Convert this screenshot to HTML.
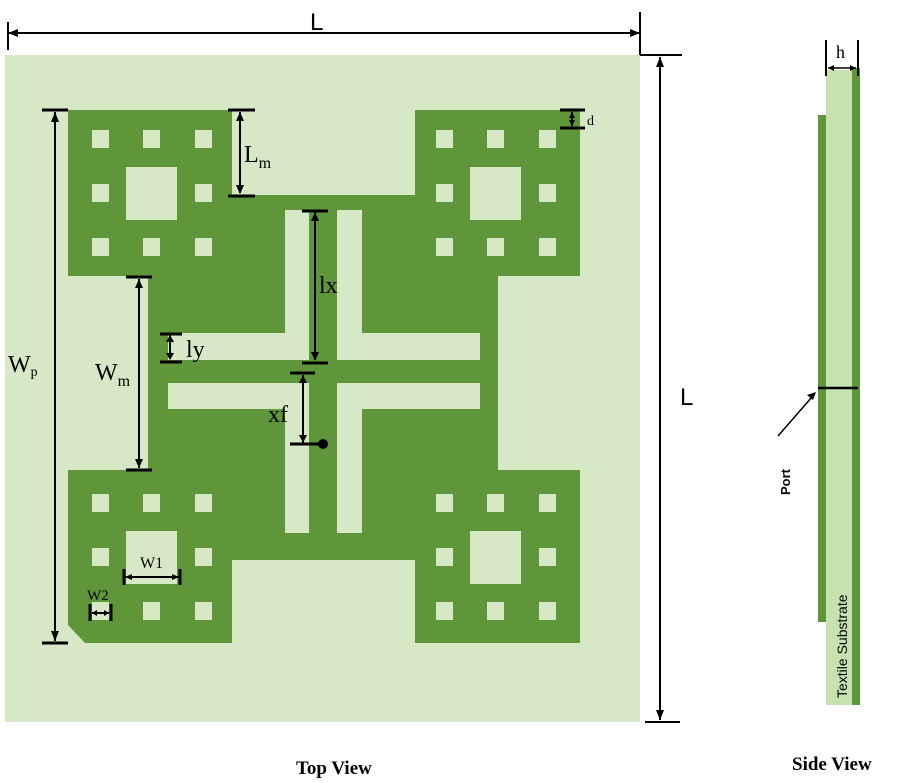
<!DOCTYPE html>
<html><head><meta charset="utf-8"><style>body{margin:0;background:#fff}svg{display:block}</style></head><body>
<svg width="900" height="783" viewBox="0 0 900 783" xmlns="http://www.w3.org/2000/svg" font-family="Liberation Serif, serif">
<rect x="5" y="55" width="635" height="667" fill="#d6e8c5"/>
<path d="M68 110H232V195H415V110H580V276H498V470H580V643H415V560H232V643H85L68 625V470H148V276H68Z" fill="#5f9639"/>
<g fill="#d6e8c5">
<g id="h1">
<rect x="92" y="130" width="17" height="18"/><rect x="143" y="130" width="17" height="18"/><rect x="195" y="130" width="17" height="18"/>
<rect x="92" y="184" width="17" height="18"/><rect x="195" y="184" width="17" height="18"/>
<rect x="92" y="238" width="17" height="18"/><rect x="143" y="238" width="17" height="18"/><rect x="195" y="238" width="17" height="18"/>
<rect x="126" y="167" width="51" height="53"/>
</g>
<use href="#h1" x="344" y="0"/>
<use href="#h1" x="0" y="364"/>
<use href="#h1" x="344" y="364"/>
<rect x="285" y="210" width="24" height="150"/><rect x="168" y="333" width="141" height="27"/>
<rect x="337" y="210" width="25" height="150"/><rect x="337" y="333" width="143" height="27"/>
<rect x="168" y="383" width="141" height="26"/><rect x="285" y="383" width="24" height="150"/>
<rect x="337" y="383" width="143" height="26"/><rect x="337" y="383" width="25" height="150"/>
</g>
<g stroke="#000" stroke-width="2" fill="none">
<line x1="8" y1="33" x2="640" y2="33"/><line x1="8" y1="22" x2="8" y2="50"/><line x1="640" y1="12" x2="640" y2="55"/>
<line x1="660" y1="57" x2="660" y2="720"/><line x1="640" y1="55" x2="682" y2="55"/><line x1="645" y1="722" x2="680" y2="722"/>
<line x1="55" y1="112" x2="55" y2="641"/>
<line x1="240" y1="112" x2="240" y2="193"/>
<line x1="139" y1="279" x2="139" y2="468"/>
<line x1="170" y1="335" x2="170" y2="358"/>
<line x1="315" y1="212" x2="315" y2="360"/>
<line x1="303" y1="375" x2="303" y2="443"/>
<line x1="572" y1="112" x2="572" y2="126"/>
<line x1="125" y1="577" x2="179" y2="577"/>
<line x1="92" y1="613" x2="109" y2="613"/>
</g>
<g stroke="#000" stroke-width="3" fill="none">
<line x1="42" y1="110" x2="68" y2="110"/><line x1="42" y1="643" x2="68" y2="643"/>
<line x1="228" y1="110" x2="255" y2="110"/><line x1="228" y1="196" x2="255" y2="196"/>
<line x1="126" y1="277" x2="152" y2="277"/><line x1="126" y1="470" x2="152" y2="470"/>
<line x1="160" y1="334" x2="182" y2="334"/><line x1="160" y1="362" x2="182" y2="362"/>
<line x1="302" y1="211" x2="328" y2="211"/><line x1="302" y1="363" x2="328" y2="363"/>
<line x1="290" y1="373" x2="315" y2="373"/><line x1="290" y1="444" x2="322" y2="444"/>
<line x1="560" y1="110" x2="585" y2="110"/><line x1="560" y1="128" x2="585" y2="128"/>
<line x1="124" y1="569" x2="124" y2="585"/><line x1="180" y1="569" x2="180" y2="585"/>
<line x1="90" y1="604" x2="90" y2="621"/><line x1="111" y1="604" x2="111" y2="621"/>
</g>
<g fill="#000">
<circle cx="323" cy="444" r="5"/>
<path d="M8 33l10-4v8zM640 33l-10-4v8zM660 57l-4 10h8zM660 720l-4-10h8zM55 112l-4 10h8zM55 641l-4-10h8zM240 112l-4 9h8zM240 194l-4-9h8zM139 279l-4 9h8zM139 468l-4-9h8zM170 335l-4 7h8zM170 360l-4-7h8zM315 212l-4 9h8zM315 361l-4-9h8zM303 375l-4 8h8zM303 443l-4-8h8zM572 112l-3 6h6zM572 126l-3-6h6zM125 577l7-3v6zM179 577l-7-3v6zM92 613l5-3v6zM109 613l-5-3v6z"/>
</g>
<g font-size="24">
<text x="310" y="30" font-family="Liberation Sans, sans-serif" font-size="24">L</text>
<text x="680" y="405" font-family="Liberation Sans, sans-serif" font-size="24">L</text>
<text x="8" y="372">W<tspan font-size="14" dy="4">p</tspan></text>
<text x="244" y="162">L<tspan font-size="16" dy="6">m</tspan></text>
<text x="95" y="380">W<tspan font-size="16" dy="6">m</tspan></text>
<text x="186" y="357">ly</text>
<text x="319" y="293">lx</text>
<text x="268" y="422">xf</text>
</g>
<text x="587" y="125" font-size="14">d</text>
<text x="140" y="568" font-size="16">W1</text>
<text x="87" y="600" font-size="15">W2</text>
<rect x="826" y="70" width="32" height="635" fill="#c6e2b0"/>
<rect x="818" y="115" width="8" height="507" fill="#5f9639"/>
<rect x="852" y="68" width="8" height="637" fill="#5f9639"/>
<line x1="818" y1="388" x2="858" y2="388" stroke="#000" stroke-width="2.5"/>
<line x1="778" y1="436" x2="812" y2="397" stroke="#000" stroke-width="1.5"/>
<path d="M816 392l-9 3 6 5z" fill="#000"/>
<g stroke="#000" stroke-width="2"><line x1="826" y1="40" x2="826" y2="76"/><line x1="858" y1="40" x2="858" y2="76"/><line x1="828" y1="68" x2="856" y2="68" stroke-width="1.5"/></g>
<path d="M828 68l6-3v6zM856 68l-6-3v6z" fill="#000"/>
<text x="836" y="58" font-size="18">h</text>
<text transform="translate(790,495) rotate(-90)" font-family="Liberation Sans, sans-serif" font-size="13" font-weight="bold">Port</text>
<text transform="translate(847,698) rotate(-90)" font-family="Liberation Sans, sans-serif" font-size="14">Textile Substrate</text>
<text x="296" y="774" font-size="19" font-weight="bold">Top View</text>
<text x="792" y="770" font-size="19" font-weight="bold">Side View</text>
</svg>
</body></html>
